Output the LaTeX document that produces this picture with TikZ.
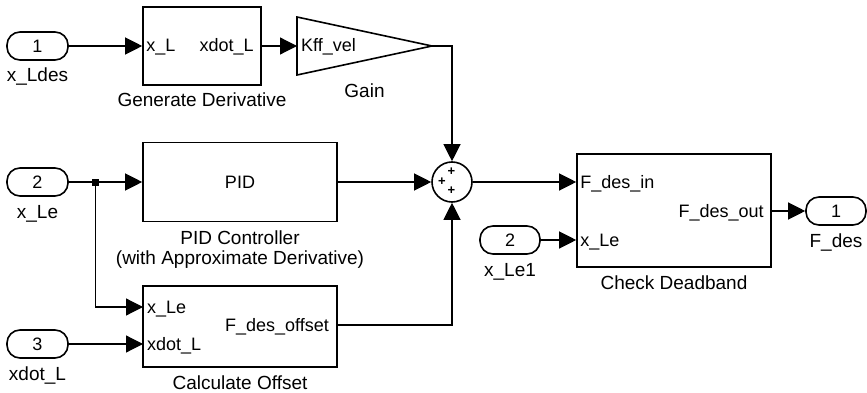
\documentclass[tikz,border=0pt]{standalone}
\usepackage{fontspec}
\setmainfont{Liberation Sans}
\usetikzlibrary{arrows.meta,positioning}

\begin{document}
\begin{tikzpicture}[
  x=1pt, y=-1pt,
  every node/.style={font=\fontsize{18}{20}\selectfont},
  blk/.style={draw, line width=1.6pt, inner sep=0pt},
  inport/.style={draw, line width=1.6pt, rounded corners=13pt, minimum width=61pt, minimum height=28pt, inner sep=0pt},
  lbl/.style={align=center, inner sep=1pt, text height=13pt, text depth=4pt, font=\fontsize{19}{20.5}\selectfont},
  portlbl/.style={inner sep=4pt, text height=12pt, text depth=0pt},
  portr/.style={portlbl, inner xsep=8pt, anchor=east},
  plus/.style={inner sep=0pt, font=\fontsize{13}{13}\selectfont\bfseries},
  wire/.style={line width=1.2pt},
  arr/.style={line width=1.2pt, -{Triangle[length=17pt,width=17pt]}}
]
\useasboundingbox (0,0) rectangle (867,393);

% inputs
\node[inport] (in1) at (37.5,46) {1};
\node[lbl, below=7pt of in1] (in1lbl) {x\_Ldes};
\node[inport] (in2) at (37.5,182) {2};
\node[lbl, below=7pt of in2] (in2lbl) {x\_Le};
\node[inport] (in3) at (37.5,344) {3};
\node[lbl, below=7pt of in3] (in3lbl) {xdot\_L};
\node[fill, minimum size=7pt, inner sep=0pt] (jn) at (95.5,182) {};

% generate derivative + gain
\node[blk, minimum width=118pt, minimum height=78pt] (gd) at (202,46) {};
\node[portlbl, anchor=west] at (gd.west) {x\_L};
\node[portr] at (gd.east) {xdot\_L};
\node[lbl, below=7pt of gd] (gdlbl) {Generate Derivative};

\coordinate (gainin) at (297,46);
\coordinate (gainout) at (432,46);
\coordinate (gainbot) at (364.5,75);
\draw[line width=1.6pt, line join=miter] (297,17) -- (gainout) -- (297,75) -- cycle;
\node[portlbl, anchor=west] (kff) at (gainin) {Kff\_vel};
\node[lbl, below=8pt of gainbot] (gainlbl) {Gain};

% PID
\node[blk, minimum width=194pt, minimum height=79pt] (pid) at (240,182) {PID};
\node[lbl, text height=, text depth=, below=7pt of pid] (pidlbl) {PID Controller\\(with Approximate Derivative)};

% offset
\node[blk, minimum width=194pt, minimum height=81pt] (co) at (240,326.5) {};
\coordinate (coxle) at (143,307);
\coordinate (coxd) at (143,344);
\coordinate (coout) at (337,325);
\node[portlbl, anchor=west] at (coxle) {x\_Le};
\node[portlbl, anchor=west] at (coxd) {xdot\_L};
\node[portr] at (coout) {F\_des\_offset};
\node[lbl, below=7pt of co] (colbl) {Calculate Offset};

% sum
\node[draw, circle, line width=1.6pt, minimum size=40pt, inner sep=0pt] (sum) at (452,182) {};
\node[plus] at (451.5,172) {+};
\node[plus] at (442,181.5) {+};
\node[plus] at (451.5,191) {+};

% deadband
\node[blk, minimum width=194pt, minimum height=113pt] (cd) at (674,210.5) {};
\node[inport, minimum width=60pt] (in4) at (510,240) {2};
\node[lbl, below=7pt of in4] (in4lbl) {x\_Le1};
\node[inport, minimum width=60pt] (out1) at (836,211) {1};
\node[lbl, below=7pt of out1] (out1lbl) {F\_des};
\node[portlbl, anchor=west] at (sum -| cd.west) {F\_des\_in};
\node[portlbl, anchor=west] at (in4 -| cd.west) {x\_Le};
\node[portr] at (out1 -| cd.east) {F\_des\_out};
\node[lbl, below=7pt of cd] (cdlbl) {Check Deadband};

% wires
\draw[arr] (in1) -- (gd);
\draw[arr] (gd) -- (gainin);
\draw[arr] (gainout) -| (sum.north);
\draw[wire] (in2) -- (jn);
\draw[arr] (jn) -- (pid);
\draw[arr] (jn) |- (coxle);
\draw[arr] (in3) -- (coxd);
\draw[arr] (pid) -- (sum);
\draw[arr] (coout) -| (sum.south);
\draw[arr] (sum) -- (sum -| cd.west);
\draw[arr] (in4) -- (in4 -| cd.west);
\draw[arr] (out1 -| cd.east) -- (out1);
\end{tikzpicture}
\end{document}
